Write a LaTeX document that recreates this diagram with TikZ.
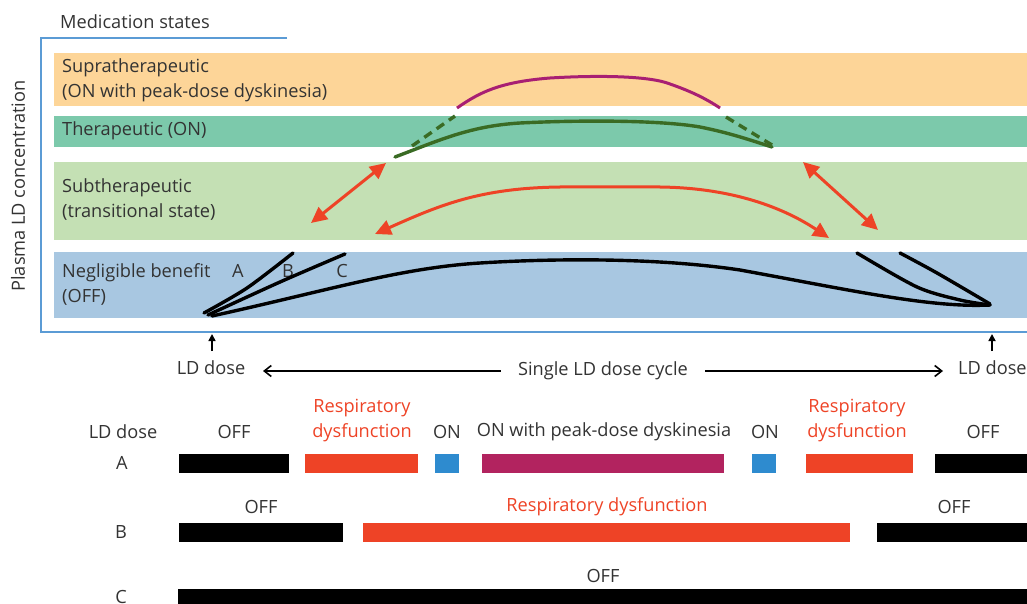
\documentclass[tikz,border=0pt]{standalone}
\usepackage{fontspec}
\setmainfont{Open Sans}
\usetikzlibrary{arrows.meta}
\definecolor{supra}{HTML}{FDD598}
\definecolor{thera}{HTML}{7CC9AB}
\definecolor{subth}{HTML}{C4E0B4}
\definecolor{neglig}{HTML}{A8C7E1}
\definecolor{framec}{HTML}{5B9BD5}
\definecolor{redc}{HTML}{EE4326}
\definecolor{magc}{HTML}{B2235F}
\definecolor{magline}{HTML}{A81F73}
\definecolor{greenc}{HTML}{3A6B24}
\definecolor{bluebar}{HTML}{2E8BCF}
\definecolor{txt}{HTML}{333333}
\tikzset{
  band/.style={draw=none,anchor=north west,inner sep=0,minimum width=973},
  lbl/.style={text=txt,inner sep=0,font=\fontsize{18.2}{25}\selectfont},
  bandlbl/.style={lbl,anchor=west,align=left},
  redlbl/.style={lbl,text=redc,align=center},
  curveblk/.style={line width=3.4pt,black,line cap=round,line join=round},
  curvegrn/.style={line width=3.4pt,greenc},
  redarrow/.style={line width=3pt,redc,{Triangle[length=16pt,width=15pt]}-{Triangle[length=16pt,width=15pt]}},
  thinarrow/.style={line width=1.6pt,black,-{Straight Barb[length=7pt,width=11pt]}},
  uparrow/.style={line width=1.6pt,black,-{Triangle[length=7pt,width=7pt]}},
}
\begin{document}
\begin{tikzpicture}[x=1pt,y=-1pt]
\useasboundingbox (0,0) rectangle (1027,604);
% frame
\node[lbl] (medstates) at (135,22) {Medication states};
\draw[framec,line width=1.5pt] (287,38) -- (41,38) -- (41,332) -- (1027,332);
\node[lbl,rotate=90] (ylabel) at (18,186) {Plasma LD concentration};
% bands
\node[band,fill=supra,minimum height=53] (bsupra) at (54,53) {};
\node[band,fill=thera,minimum height=31] (bthera) at (54,116) {};
\node[band,fill=subth,minimum height=78] (bsub) at (54,162) {};
\node[band,fill=neglig,minimum height=66] (bneg) at (54,252) {};
\node[bandlbl] (lsupra) at (62,80) {Supratherapeutic\\(ON with peak-dose dyskinesia)};
\node[bandlbl] (lthera) at (62,131) {Therapeutic (ON)};
\node[bandlbl] (lsub) at (62,200) {Subtherapeutic\\(transitional state)};
\node[bandlbl] (lneg) at (62,284) {Negligible benefit\\(OFF)};
\node[lbl] (la) at (238,271) {A};
\node[lbl] (lb) at (288,271) {B};
\node[lbl] (lc) at (342,271) {C};
% black curves
\draw[curveblk] plot[smooth] coordinates {(204,313) (247,288) (293,253)};
\draw[curveblk] plot[smooth] coordinates {(208,315) (280,282) (345,254)};
\draw[curveblk] (212,316) .. controls (330,290) and (400,268) .. (480,263)
  .. controls (560,258) and (660,258) .. (740,270)
  .. controls (850,290) and (930,308) .. (990,305);
\draw[curveblk] plot[smooth] coordinates {(857,253) (917,287) (960,300) (990,305)};
\draw[curveblk] plot[smooth] coordinates {(900,253) (937,273) (990,304)};
% green
\draw[curvegrn,line cap=round] (395,157) .. controls (440,140) and (470,126) .. (520,123)
  .. controls (580,120) and (660,120) .. (700,127) .. controls (730,133) and (750,140) .. (772,147);
\draw[curvegrn,dash pattern=on 9pt off 6pt] (412,146) -- (455,116);
\draw[curvegrn,dash pattern=on 9pt off 6pt] (726,117) -- (772,145);
% magenta
\draw[line width=3pt,magline] (457,108) .. controls (480,92) and (500,82) .. (550,78)
  .. controls (600,75) and (650,76) .. (670,84) .. controls (690,91) and (705,98) .. (720,108);
% red arrows
\coordinate (r1a) at (311,223);
\coordinate (r1b) at (386,163);
\draw[redarrow] (r1a) -- (r1b);
\coordinate (r2a) at (803,162);
\coordinate (r2b) at (878,230);
\draw[redarrow] (r2a) -- (r2b);
\coordinate (r3a) at (375,234);
\coordinate (r3b) at (829,238);
\draw[redarrow] (r3a) .. controls (440,205) and (480,188) .. (560,187)
  -- (660,187) .. controls (740,188) and (790,212) .. (r3b);
% dose arrows
\node[lbl] (dose1) at (211,368) {LD dose};
\node[lbl,anchor=west] (dose2) at (958,368) {LD dose};
\coordinate (up1) at (212,334);
\coordinate (up2) at (992,334);
\draw[uparrow] (212,351) -- (up1);
\draw[uparrow] (992,351) -- (up2);
\node[lbl] (cycle) at (603,371) {Single LD dose cycle};
\draw[thinarrow] (cycle.west) ++(-17,0) coordinate (cl) -- (263,371);
\draw[thinarrow] (cycle.east) ++(17,0) coordinate (cr) -- (943,371);
% bottom rows
\node[lbl] (ldhdr) at (123,432) {LD dose};
\node[lbl] (rowA) at (122,463) {A};
\node[lbl] (rowB) at (121,532) {B};
\node[lbl] (rowC) at (121,597) {C};
% row A
\node[lbl] (aoff1) at (234,432) {OFF};
\node[redlbl] (aresp1) at (362,421) {Respiratory\\dysfunction};
\node[lbl] (aon1) at (447,432) {ON};
\node[lbl] (apeak) at (604,432) {ON with peak-dose dyskinesia};
\node[lbl] (aon2) at (765,432) {ON};
\node[redlbl] (aresp2) at (857,421) {Respiratory\\dysfunction};
\node[lbl] (aoff2) at (983,432) {OFF};
\fill[black] (179,454) rectangle (289,473);
\fill[redc] (305,454) rectangle (418,473);
\fill[bluebar] (435,454) rectangle (459,473);
\fill[magc] (482,454) rectangle (724,473);
\fill[bluebar] (752,454) rectangle (776,473);
\fill[redc] (806,454) rectangle (913,473);
\fill[black] (935,454) rectangle (1027,473);
% row B
\node[lbl] (boff1) at (261,507) {OFF};
\node[lbl,text=redc] (bresp) at (607,507) {Respiratory dysfunction};
\node[lbl] (boff2) at (954,507) {OFF};
\fill[black] (179,523) rectangle (343,542);
\fill[redc] (363,523) rectangle (850,542);
\fill[black] (877,523) rectangle (1027,542);
% row C
\node[lbl] (coff) at (603,576) {OFF};
\fill[black] (178,589) rectangle (1027,604);
\end{tikzpicture}
\end{document}
